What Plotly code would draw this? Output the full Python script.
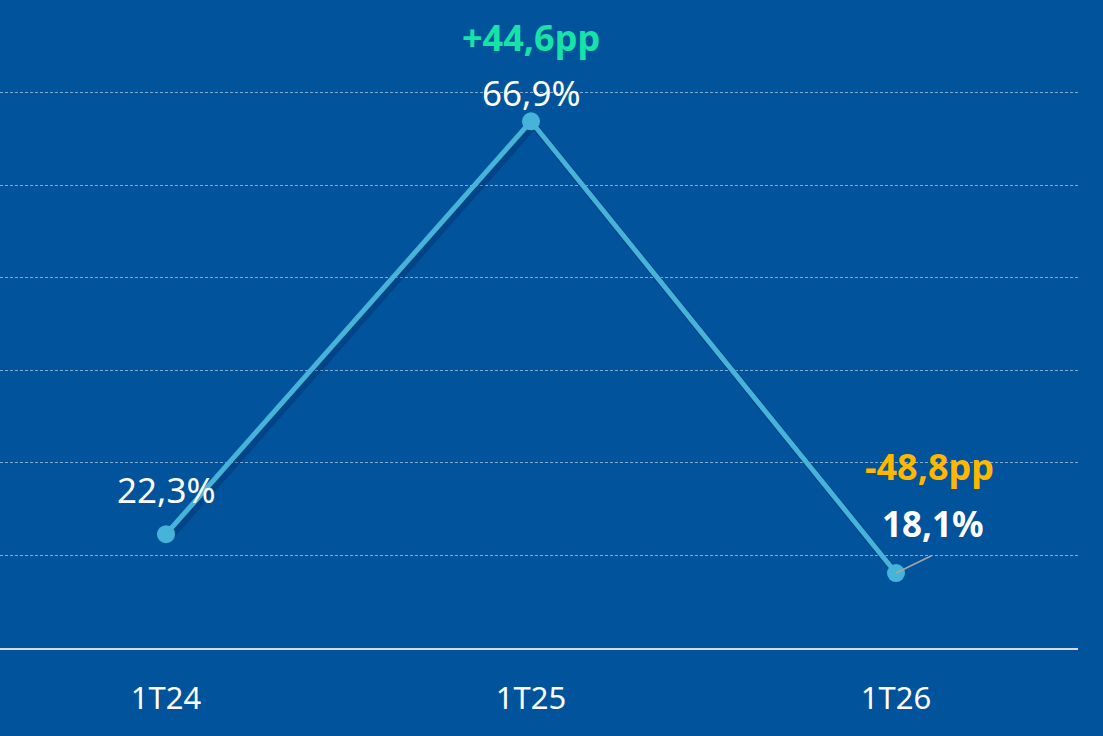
import plotly.graph_objects as go

categories = ["1T24", "1T25", "1T26"]
values = [22.3, 66.9, 18.1]
value_labels = ["22,3%", "66,9%", "18,1%"]
delta_labels = ["", "+44,6pp", "-48,8pp"]
grid_values = [20, 30, 40, 50, 60, 70]

BG = "#01539C"
LINE = "#45B4D8"
GREEN = "#17E3A8"
ORANGE = "#FFB700"
FONT = "Noto Sans"

W, H = 1103, 736
ML, MR, MT, MB = 0, 25, 0, 88
pw = W - ML - MR
ph = H - MT - MB
px_per_cat = 365
x0 = -166 / px_per_cat
x1 = x0 + pw / px_per_cat
y0, y1 = 10, 80
px_per_y = ph / (y1 - y0)

fig = go.Figure()

# shadow of the line on the base axes (ranges offset by a few pixels)
sx, sy = 3 / px_per_cat, 4 / px_per_y
fig.add_trace(go.Scatter(
    x=categories, y=values, mode="lines",
    line=dict(color="rgba(0,25,70,0.25)", width=7),
    xaxis="x", yaxis="y", hoverinfo="skip", showlegend=False))

fig.add_trace(go.Scatter(
    x=categories, y=values, mode="lines+markers",
    line=dict(color=LINE, width=5),
    marker=dict(color=LINE, size=18),
    xaxis="x2", yaxis="y2",
    showlegend=False))

# leader line for last label
fig.add_annotation(x=categories[2], y=values[2], xref="x2", yref="y2",
                   text="", showarrow=True,
                   ax=37, ay=-18, arrowhead=0, arrowwidth=1.5,
                   arrowcolor="#A6A6A6", standoff=0)

label_fonts = [
    dict(family=FONT, size=35, color="white"),
    dict(family=FONT, size=35, color="white"),
    dict(family=FONT, size=35, color="white", weight="bold"),
]
label_shift = [(0, 45), (0, 29), (37, 50)]
for c, v, t, f, (dx, dy) in zip(categories, values, value_labels, label_fonts, label_shift):
    fig.add_annotation(x=c, y=v, xref="x2", yref="y2", text=t, showarrow=False, font=f,
                       xshift=dx, yshift=dy, xanchor="center", yanchor="middle")

delta_colors = [None, GREEN, ORANGE]
delta_shift = [(0, 0), (0, 84), (33, 107)]
for c, v, t, col, (dx, dy) in zip(categories, values, delta_labels, delta_colors, delta_shift):
    if not t:
        continue
    fig.add_annotation(x=c, y=v, xref="x2", yref="y2", text=t, showarrow=False,
                       font=dict(family=FONT, size=36, color=col, weight="bold"),
                       xshift=dx, yshift=dy, xanchor="center", yanchor="middle")

fig.update_layout(
    width=W, height=H,
    margin=dict(l=ML, r=MR, t=MT, b=MB),
    paper_bgcolor=BG, plot_bgcolor=BG,
    showlegend=False,
    xaxis=dict(type="category", categoryarray=categories,
               range=[x0 - sx, x1 - sx], visible=False, fixedrange=True),
    yaxis=dict(range=[y0 + sy, y1 + sy], visible=False, fixedrange=True),
    xaxis2=dict(type="category", categoryarray=categories, range=[x0, x1],
                overlaying="x", side="bottom",
                showgrid=False, zeroline=False, showline=True,
                linecolor="#D9D9D9", linewidth=2, ticks="",
                tickfont=dict(family=FONT, size=31, color="white"),
                ticklabelstandoff=22, fixedrange=True),
    yaxis2=dict(range=[y0, y1], overlaying="y", side="left",
                tickvals=grid_values, showticklabels=False,
                showgrid=True, gridcolor="rgba(200,220,240,0.65)", gridwidth=1,
                griddash="3px,2px", zeroline=False, showline=False,
                fixedrange=True),
)

fig.write_html("out.html",
               config={"displayModeBar": False},
               post_script="document.body.style.margin='0';"
                           "document.body.style.background='" + BG + "';")
